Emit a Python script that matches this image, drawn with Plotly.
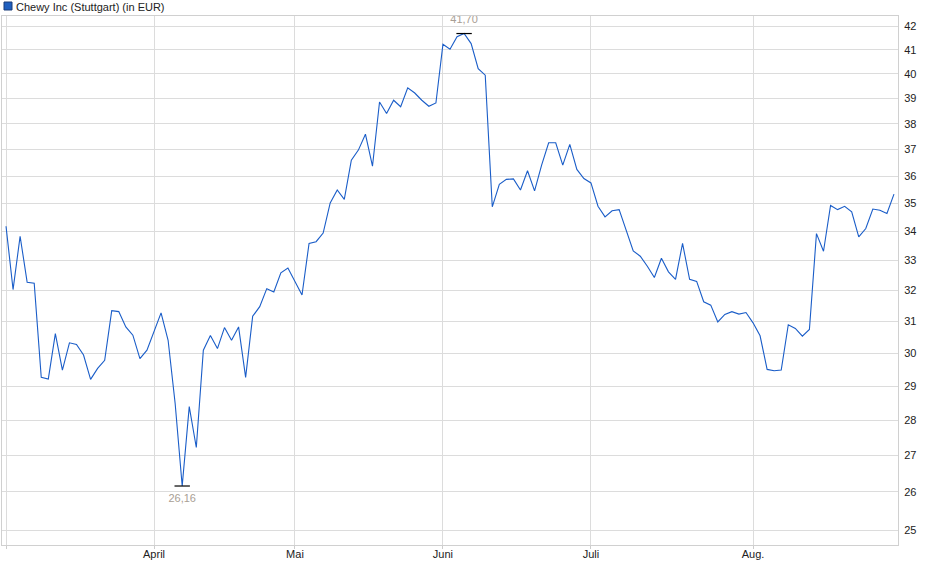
import pandas as pd
import plotly.graph_objects as go

# Closing prices (EUR), Boerse Stuttgart, one value per trading day
mar = [34.19, 32.03, 33.84, 32.27, 32.24, 29.26, 29.21, 30.61, 29.48, 30.32, 30.27,
       29.94, 29.20, 29.53, 29.78, 31.34, 31.31, 30.82, 30.56, 29.83, 30.09]
apr = [30.67, 31.27, 30.40, 28.48, 26.16, 28.39, 27.22, 30.09, 30.55, 30.14,
       30.80, 30.40, 30.82, 29.26, 31.16, 31.47, 32.06, 31.95, 32.59, 32.75]
may = [32.30, 31.85, 33.59, 33.65, 33.95, 35.02, 35.49, 35.15, 36.60, 36.98, 37.59,
       36.37, 38.86, 38.40, 38.93, 38.67, 39.43, 39.22, 38.93, 38.69, 38.82]
jun = [41.24, 41.03, 41.56, 41.70, 41.27, 40.22, 39.95, 34.88, 35.70, 35.88, 35.90,
       35.49, 36.20, 35.46, 36.41, 37.26, 37.26, 36.41, 37.20, 36.25, 35.91]
jul = [35.75, 34.90, 34.52, 34.74, 34.78, 34.05, 33.33, 33.15, 32.81, 32.43, 33.08, 32.62,
       32.37, 33.59, 32.37, 32.30, 31.63, 31.52, 30.98, 31.22, 31.31, 31.23, 31.28]
aug = [30.95, 30.54, 29.50, 29.46, 29.48, 30.89, 30.77, 30.53, 30.74, 33.93, 33.32,
       34.93, 34.78, 34.90, 34.70, 33.82, 34.11, 34.80, 34.76, 34.64, 35.34]

holidays = ["2025-04-18", "2025-04-21", "2025-05-01"]
month_starts = ["2025-03-03", "2025-04-01", "2025-05-02", "2025-06-02", "2025-07-01", "2025-08-01"]
month_labels = ["", "April", "Mai", "Juni", "Juli", "Aug."]
price_ticks = list(range(25, 43))

days = pd.bdate_range("2025-03-03", "2025-08-29")
days = [d.strftime("%Y-%m-%d") for d in days if d.strftime("%Y-%m-%d") not in holidays]
prices = mar + apr + may + jun + jul + aug

hi = prices.index(max(prices))
lo = prices.index(min(prices))

fig = go.Figure()
fig.add_trace(go.Scatter(x=days, y=prices, mode="lines",
                         line=dict(color="#1a5dc8", width=1.1), hoverinfo="skip"))

# high / low marks with their values
fig.add_trace(go.Scatter(
    x=[days[hi], days[lo]], y=[prices[hi], prices[lo]],
    mode="markers+text",
    marker=dict(symbol="line-ew", size=11, line=dict(color="#000000", width=1.2)),
    text=[f"{prices[hi]:.2f}".replace(".", ","), f"{prices[lo]:.2f}".replace(".", ",")],
    textposition=["top center", "bottom center"],
    textfont=dict(color="#a89e94", size=11),
    hoverinfo="skip"))

# legend box + label above the plot
fig.add_shape(type="rect", xref="paper", yref="paper",
              xsizemode="pixel", ysizemode="pixel", xanchor=0, yanchor=1,
              x0=2, x1=10, y0=6, y1=14,
              fillcolor="#1f5fbf", line=dict(color="#1b3c78", width=1))
fig.add_annotation(
    xref="paper", yref="paper", x=0, y=1, xanchor="left", yanchor="bottom",
    xshift=12, yshift=1, showarrow=False,
    text="Chewy Inc (Stuttgart) (in EUR)",
    font=dict(size=11, color="#222222"))

fig.update_layout(
    width=940, height=579,
    margin=dict(l=2, r=42, t=16, b=34),
    paper_bgcolor="white", plot_bgcolor="white",
    font=dict(family="Liberation Sans, Arial, sans-serif", size=11, color="#222222"),
    showlegend=False,
)

fig.update_xaxes(
    type="category", range=[-0.57, 126.57],
    tickvals=month_starts, ticktext=month_labels,
    showgrid=True, gridcolor="#dcdcdc", gridwidth=1,
    ticks="outside", ticklen=3, tickcolor="#cccccc", ticklabelstandoff=-4,
    showline=True, linecolor="#d0d0d0", mirror=True,
)
fig.update_yaxes(
    type="log", side="right", range=[1.39124, 1.62798],
    tickvals=price_ticks, ticktext=[str(v) for v in price_ticks],
    showgrid=True, gridcolor="#dcdcdc", gridwidth=1,
    ticks="outside", ticklen=3, tickcolor="rgba(0,0,0,0)",
    showline=True, linecolor="#d0d0d0", mirror=True,
)

fig.write_html("out.html", config={"displayModeBar": False},
               post_script="document.body.style.margin='0';")
